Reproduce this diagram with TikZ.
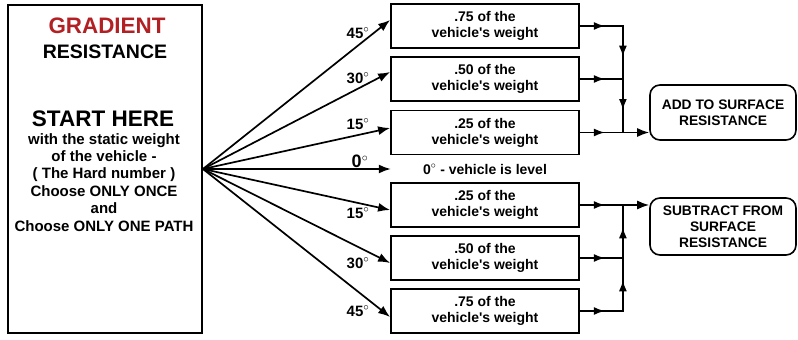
\documentclass[tikz,border=0pt]{standalone}
\usepackage{xcolor}
\usepackage{tikz}
\usepackage{fontspec}
\setmainfont{Liberation Sans}
\usetikzlibrary{calc}
\usetikzlibrary{arrows.meta}
\usetikzlibrary{decorations.markings}
\definecolor{gradred}{RGB}{178,32,36}

\begin{document}
\begin{tikzpicture}[x=1pt, y=1pt,
  startbox/.style={draw, line width=1.9pt, minimum width=194pt, minimum height=328pt, inner sep=0pt},
  weightbox/.style={draw, line width=1.8pt, minimum width=188pt, minimum height=44pt, inner sep=0pt, align=center, font=\fontsize{14}{16}\selectfont\bfseries},
  resultbox/.style={draw, line width=1.6pt, rounded corners=10pt, minimum width=146pt, inner sep=0pt, align=center, font=\fontsize{13.8}{15.8}\selectfont\bfseries},
  anglelabel/.style={font=\fontsize{15}{17}\selectfont\bfseries, inner sep=0pt},
  conn/.style={line width=1.7pt, -{Latex[length=12pt, width=9pt]}},
  midarrow/.style={line width=1.7pt, line cap=rect, postaction={decorate},
    decoration={markings, mark=at position 0.58 with {\arrow{Latex[length=11pt, width=8pt]}}}}]
  \useasboundingbox (0,0) rectangle (798,340);

  % left box
  \node[startbox] (start) at (105,171) {};
  \node[font=\fontsize{22.4}{26}\selectfont\bfseries, text=gradred] (gradient) at (107,314) {GRADIENT};
  \node[font=\fontsize{19.5}{22}\selectfont\bfseries] (resist) at (105,288.5) {RESISTANCE};
  \node[font=\fontsize{22.5}{25}\selectfont\bfseries] (starthere) at (103,221.5) {START HERE};
  \node[font=\fontsize{15}{17.4}\selectfont\bfseries, align=center, anchor=north, inner sep=0pt] (howto) at (104,207)
    {with the static weight\\of the vehicle -\\( The Hard number )\\Choose ONLY ONCE\\and\\Choose ONLY ONE PATH};

  % weight boxes
  \node[weightbox] (b1) at (485,314) {.75 of the\\vehicle\textquotesingle s weight};
  \node[weightbox] (b2) at (485,261) {.50 of the\\vehicle\textquotesingle s weight};
  \node[weightbox] (b3) at (485,207.5) {.25 of the\\vehicle\textquotesingle s weight};
  \node[minimum width=188pt, inner sep=0pt, font=\fontsize{14}{16}\selectfont\bfseries] (level) at (485,171) {0$^{\circ}$ - vehicle is level};
  \node[weightbox] (b4) at (485,135) {.25 of the\\vehicle\textquotesingle s weight};
  \node[weightbox] (b5) at (485,82) {.50 of the\\vehicle\textquotesingle s weight};
  \node[weightbox] (b6) at (485,29) {.75 of the\\vehicle\textquotesingle s weight};

  % paths from the start box
  \foreach \b/\dy in {b1/6, b2/7, b3/4.5, b4/-5, b5/-5, b6/-6}
    \draw[conn] (start.east) -- ([yshift=\dy pt]\b.west);
  \draw[conn] (start.east) -- (level.west);

  % angles
  \foreach \n/\a/\y in {up45/45/307, up30/30/262, up15/15/216, dn15/15/127, dn30/30/77, dn45/45/29}
    \node[anglelabel] (\n) at (358,\y) {\a$^{\circ}$};
  \node[anglelabel, font=\fontsize{18}{20}\selectfont\bfseries] (flat) at (360,178.5) {0$^{\circ}$};

  % result boxes
  \node[resultbox, minimum height=55pt] (addsurf) at (723,227.5) {ADD TO SURFACE\\RESISTANCE};
  \node[resultbox, minimum height=57pt] (subsurf) at (723,113.5) {SUBTRACT FROM\\SURFACE\\RESISTANCE};

  \coordinate (j1) at ($(b1.east)+(43,0)$);
  \coordinate (j2) at ($(b2.east)+(43,0)$);
  \coordinate (j3) at ($(b3.east)+(43,0)$);
  \coordinate (k4) at ($(b4.east)+(43,0)$);
  \coordinate (k5) at ($(b5.east)+(43,0)$);
  \coordinate (k6) at ($(b6.east)+(43,0)$);

  \draw[midarrow] (b1.east) -- (j1);
  \draw[midarrow] (b2.east) -- (j2);
  \draw[midarrow] (b3.east) -- (j3);
  \draw[midarrow] (j1) -- (j2);
  \draw[midarrow] (j2) -- (j3);
  \draw[conn] (j3) -- (j3 -| addsurf.west);

  \draw[midarrow] (b4.east) -- (k4);
  \draw[midarrow] (b5.east) -- (k5);
  \draw[midarrow] (b6.east) -- (k6);
  \draw[midarrow] (k6) -- (k5);
  \draw[midarrow] (k5) -- (k4);
  \draw[conn] (k4) -- (k4 -| subsurf.west);
\end{tikzpicture}
\end{document}
